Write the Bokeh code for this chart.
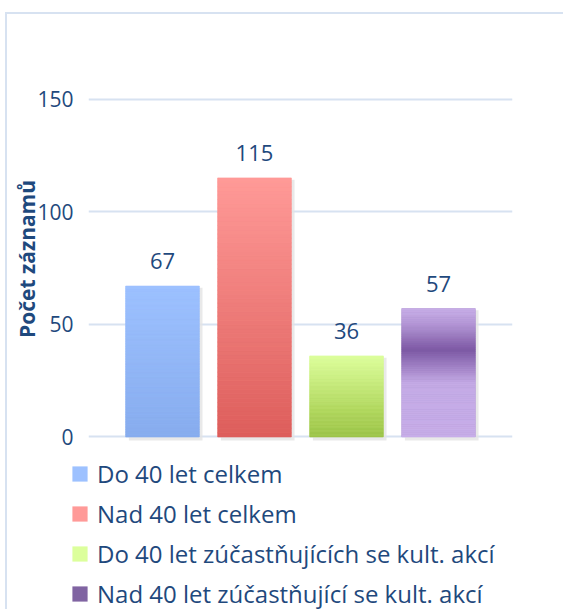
from bokeh.plotting import figure
from bokeh.models import (Range1d, FixedTicker, ColumnDataSource, LabelSet,
                          Legend, LegendItem)
from bokeh.core.properties import value
from bokeh.embed import file_html
from bokeh.resources import INLINE

# ---- data ----
categories = ["Do 40 let celkem", "Nad 40 let celkem",
              "Do 40 let zúčastňujících se kult. akcí",
              "Nad 40 let zúčastňující se kult. akcí"]
values = [67, 115, 36, 57]
y_ticks = [0, 50, 100, 150]
axis_title = "Počet záznamů"

# ---- styles ----
legend_colors = ["#9dc1ff", "#ff9a98", "#dcff9c", "#8064a2"]
gradient_stops = [
    [(0.0, "#87acee"), (1.0, "#9dc1ff")],
    [(0.0, "#dd5e5b"), (1.0, "#ff9a98")],
    [(0.0, "#9cc449"), (0.35, "#b2d760"), (1.0, "#ddff9d")],
    [(0.0, "#c7aee9"), (0.42, "#c5abe6"), (0.68, "#7d59a5"),
     (0.88, "#b497d6"), (1.0, "#c8afe8")],
]
TEXT = "#1f497d"
GRID = "#d7e2f1"
FONT = "Open Sans"
N_SEG = 60


def hex2rgb(h):
    h = h.lstrip("#")
    return tuple(int(h[i:i + 2], 16) for i in (0, 2, 4))


def interp(stops, f):
    for (f0, c0), (f1, c1) in zip(stops[:-1], stops[1:]):
        if f0 <= f <= f1:
            t = 0 if f1 == f0 else (f - f0) / (f1 - f0)
            a, b = hex2rgb(c0), hex2rgb(c1)
            return "#%02x%02x%02x" % tuple(round(a[i] + (b[i] - a[i]) * t) for i in range(3))
    return stops[-1][1]


xs = list(range(len(categories)))

# ---------------- main chart ----------------
p = figure(width=558, height=441, output_backend="svg", toolbar_location=None,
           x_range=Range1d(-0.804, len(categories) - 1 + 0.804),
           y_range=Range1d(-2, 160),
           min_border_left=81, min_border_right=53,
           min_border_top=62, min_border_bottom=14)
p.margin = (12, 0, 0, 5)
p.styles = {"border-left": "2px solid " + GRID, "border-top": "2px solid " + GRID}
p.outline_line_color = None
p.background_fill_color = "white"
p.border_fill_color = "white"

p.xaxis.visible = False
p.xgrid.visible = False
yax = p.yaxis[0]
yax.ticker = FixedTicker(ticks=y_ticks)
yax.axis_line_color = None
yax.major_tick_line_color = None
yax.minor_tick_line_color = None
yax.major_label_text_font = FONT
yax.major_label_text_font_size = "21px"
yax.major_label_text_color = TEXT
yax.major_label_standoff = 9
yax.axis_label = axis_title
yax.axis_label_text_font = FONT
yax.axis_label_text_font_style = "bold"
yax.axis_label_text_font_size = "21px"
yax.axis_label_text_color = TEXT
yax.axis_label_standoff = -7
p.ygrid.grid_line_color = GRID
p.ygrid.grid_line_width = 2
p.ygrid.ticker = FixedTicker(ticks=y_ticks)

# shadows
p.vbar(x=[x + 0.035 for x in xs], bottom=[-1.6] * len(xs),
       top=[v - 0.8 for v in values], width=0.8,
       fill_color="#e4e4e4", line_color=None, fill_alpha=0.8)

# base bars
for i, (x, v) in enumerate(zip(xs, values)):
    p.vbar(x=[x], bottom=[0], top=[v], width=0.8,
           fill_color=legend_colors[i], line_color=None)

# gradient overlay
gx, gb, gt, gc = [], [], [], []
for i, (x, v) in enumerate(zip(xs, values)):
    for k in range(N_SEG):
        gx.append(x)
        gb.append(v * k / N_SEG)
        gt.append(v * (k + 1) / N_SEG)
        gc.append(interp(gradient_stops[i], (k + 0.5) / N_SEG))
p.vbar(x=gx, bottom=gb, top=gt, width=0.8, fill_color=gc, line_color=gc,
       line_width=0.6)

# data labels
src = ColumnDataSource(dict(x=xs, y=values, t=[str(v) for v in values]))
p.add_layout(LabelSet(x="x", y="y", text="t", source=src, y_offset=25,
                      text_align="center", text_baseline="middle",
                      text_font=value(FONT), text_font_size=value("22px"),
                      text_color=TEXT))

# ---------------- legend strip (separate root, no frame alignment) ----------------
q = figure(width=558, height=156, output_backend="svg", toolbar_location=None,
           x_range=Range1d(-0.804, len(categories) - 1 + 0.804),
           y_range=Range1d(-2, 160),
           min_border=0, min_border_left=0, min_border_right=0,
           min_border_top=0, min_border_bottom=0)
q.margin = (0, 0, 0, 5)
q.styles = {"border-left": "2px solid " + GRID}
q.axis.visible = False
q.grid.visible = False
q.outline_line_color = None
q.background_fill_color = "white"
q.border_fill_color = "white"

leg_renderers = []
for i, (x, v) in enumerate(zip(xs, values)):
    r = q.vbar(x=[x], bottom=[0], top=[v], width=0.8,
               fill_color=legend_colors[i], line_color=None)
    r.visible = False
    leg_renderers.append(r)

legend = Legend(items=[LegendItem(label=c, renderers=[r])
                       for c, r in zip(categories, leg_renderers)],
                location=(63, -4), orientation="vertical",
                glyph_width=19, glyph_height=19, label_height=40,
                label_standoff=8, spacing=0, padding=0, margin=0,
                label_text_font=FONT, label_text_font_size="24px",
                label_text_color=TEXT, border_line_color=None,
                background_fill_alpha=0)
q.add_layout(legend, "center")

open("out.html", "w").write(file_html([p, q], INLINE))
